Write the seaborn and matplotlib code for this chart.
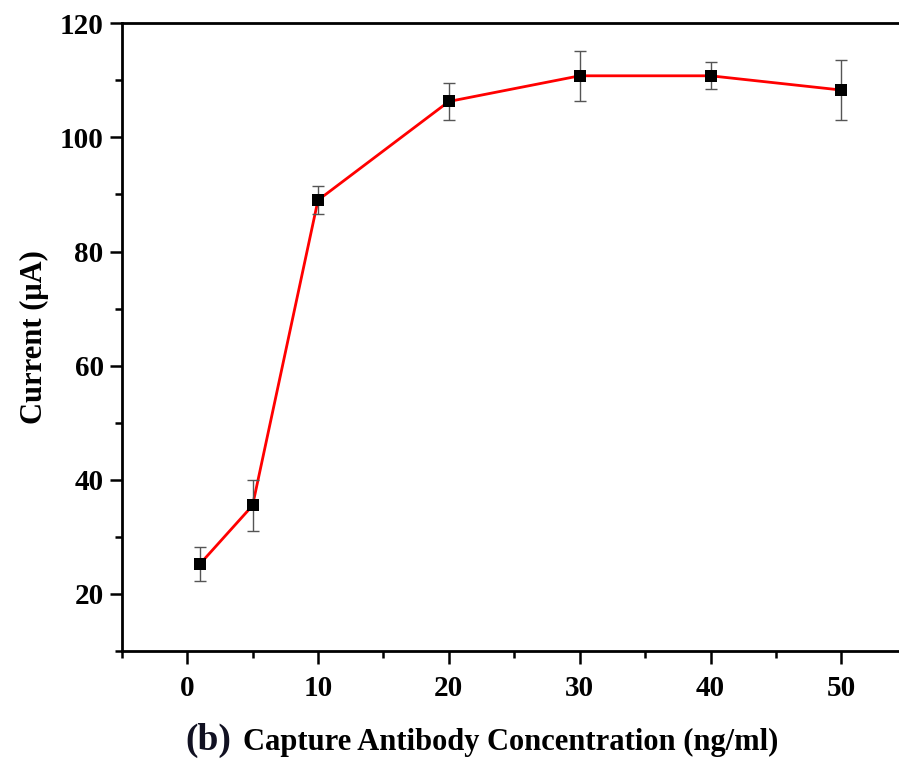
import matplotlib
matplotlib.use("Agg")
import matplotlib.pyplot as plt
from matplotlib.ticker import MultipleLocator
import seaborn as sns
import pandas as pd

# Data
concentration = [1, 5, 10, 20, 30, 40, 50]
current = [25.3, 35.5, 89.0, 106.3, 110.8, 110.8, 108.3]
error = [3.0, 4.4, 2.5, 3.2, 4.4, 2.4, 5.3]
x_ticks = [0, 10, 20, 30, 40, 50]
y_ticks = [20, 40, 60, 80, 100, 120]

df = pd.DataFrame({"conc": concentration, "current": current, "err": error})

sns.set_theme(style="ticks")
plt.rcParams["font.family"] = ["Liberation Serif", "DejaVu Serif"]
plt.rcParams["font.weight"] = "bold"
plt.rcParams["text.color"] = "black"

fig = plt.figure(figsize=(8.99, 7.65), dpi=100)
ax = fig.add_axes([121.7 / 899, 1 - 651 / 765, 1 - 121.7 / 899, (651 - 23.3) / 765])

sns.lineplot(data=df, x="conc", y="current", color="#ff0000", linewidth=2.0,
             ax=ax, zorder=2, legend=False)
ax.errorbar(df["conc"], df["current"], yerr=df["err"], fmt="none",
            ecolor="#555555", elinewidth=1.0, capsize=4, capthick=1.0, zorder=3)
sns.scatterplot(data=df, x="conc", y="current", marker="s", s=85,
                color="black", edgecolor="black", linewidth=0, ax=ax, zorder=4,
                legend=False)

ax.set_xlim(-5, 54.4)
ax.set_ylim(10, 120)
ax.set_xticks(x_ticks)
ax.set_yticks(y_ticks)
ax.xaxis.set_minor_locator(MultipleLocator(5))
ax.yaxis.set_minor_locator(MultipleLocator(10))

for side in ["left", "bottom", "top"]:
    ax.spines[side].set_linewidth(2.0)
    ax.spines[side].set_color("black")
ax.spines["right"].set_visible(False)

ax.tick_params(axis="both", which="major", direction="out", length=9, width=1.8,
               labelsize=21, pad=4, colors="black", labelcolor="black")
ax.tick_params(axis="both", which="minor", direction="out", length=5, width=1.8,
               colors="black")
ax.tick_params(axis="x", which="major", pad=8)
for lab in ax.get_xticklabels() + ax.get_yticklabels():
    lab.set_fontweight("bold")

ax.set_ylabel("Current (μA)", fontsize=22, fontweight="bold", labelpad=8,
              color="black")
ax.set_xlabel("")
fig.text(243 / 899, 1 - 750 / 765, "Capture Antibody Concentration (ng/ml)",
         fontsize=22, fontweight="bold", ha="left", va="baseline", color="black")
fig.text(185 / 899, 1 - 750 / 765, "(b)", fontsize=27, fontweight="bold",
         ha="left", va="baseline", color="#111122")

fig.savefig("out.png", dpi=100, facecolor="white")
